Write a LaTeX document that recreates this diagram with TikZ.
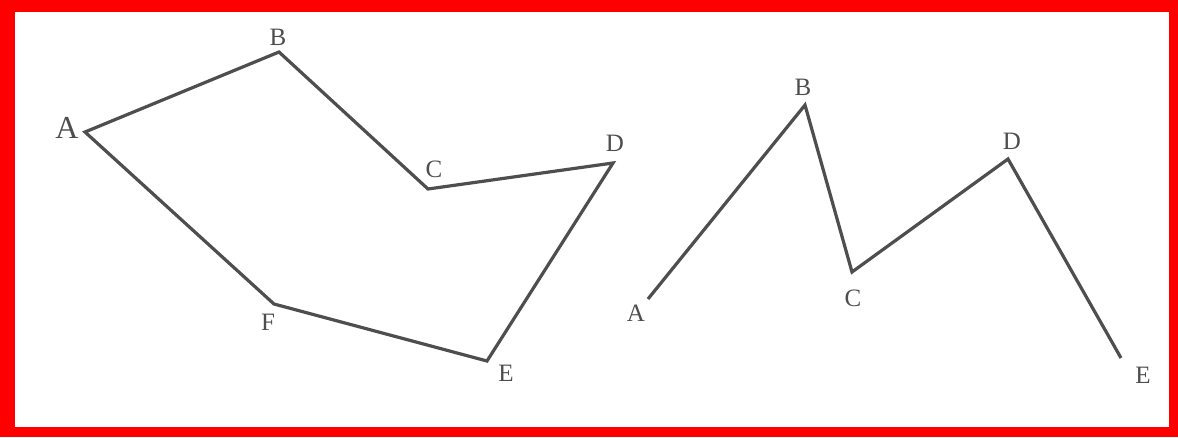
\documentclass[tikz,border=0pt]{standalone}
\usepackage{fontspec}
\setmainfont{Liberation Serif}
\definecolor{linegray}{RGB}{78,78,78}
\definecolor{framered}{RGB}{255,0,0}
\tikzset{
  edge/.style={draw=linegray, line width=3.2pt},
  lbl/.style={text=linegray, font=\fontsize{25}{25}\selectfont, inner sep=0pt, anchor=center},
  biglbl/.style={lbl, font=\fontsize{32}{32}\selectfont}
}
\begin{document}
\begin{tikzpicture}[x=1pt,y=-1pt]
\useasboundingbox (0,0) rectangle (1178,437);
\fill[framered] (0,0) rectangle (1178,437);
\fill[white] (15,12) rectangle (1169,427);
% left hexagon
\coordinate (A1) at (85,132);
\coordinate (B1) at (279,52);
\coordinate (C1) at (428,189);
\coordinate (D1) at (613,163);
\coordinate (E1) at (487,361);
\coordinate (F1) at (274,304);
\draw[edge] (A1) -- (B1) -- (C1) -- (D1) -- (E1) -- (F1) -- cycle;
\node[biglbl] (lA1) at (67,128) {A};
\node[lbl] (lB1) at (278,37) {B};
\node[lbl] (lC1) at (434,169) {C};
\node[lbl] (lD1) at (615,143) {D};
\node[lbl] (lE1) at (506,373) {E};
\node[lbl] (lF1) at (268,322) {F};
% right polyline
\coordinate (A2) at (648,299);
\coordinate (B2) at (805,105);
\coordinate (C2) at (852,272);
\coordinate (D2) at (1008,159);
\coordinate (E2) at (1121,358);
\draw[edge] (A2) -- (B2) -- (C2) -- (D2) -- (E2);
\node[lbl] (lA2) at (636,313) {A};
\node[lbl] (lB2) at (803,87) {B};
\node[lbl] (lC2) at (853,298) {C};
\node[lbl] (lD2) at (1012,141) {D};
\node[lbl] (lE2) at (1143,375) {E};
\end{tikzpicture}
\end{document}
